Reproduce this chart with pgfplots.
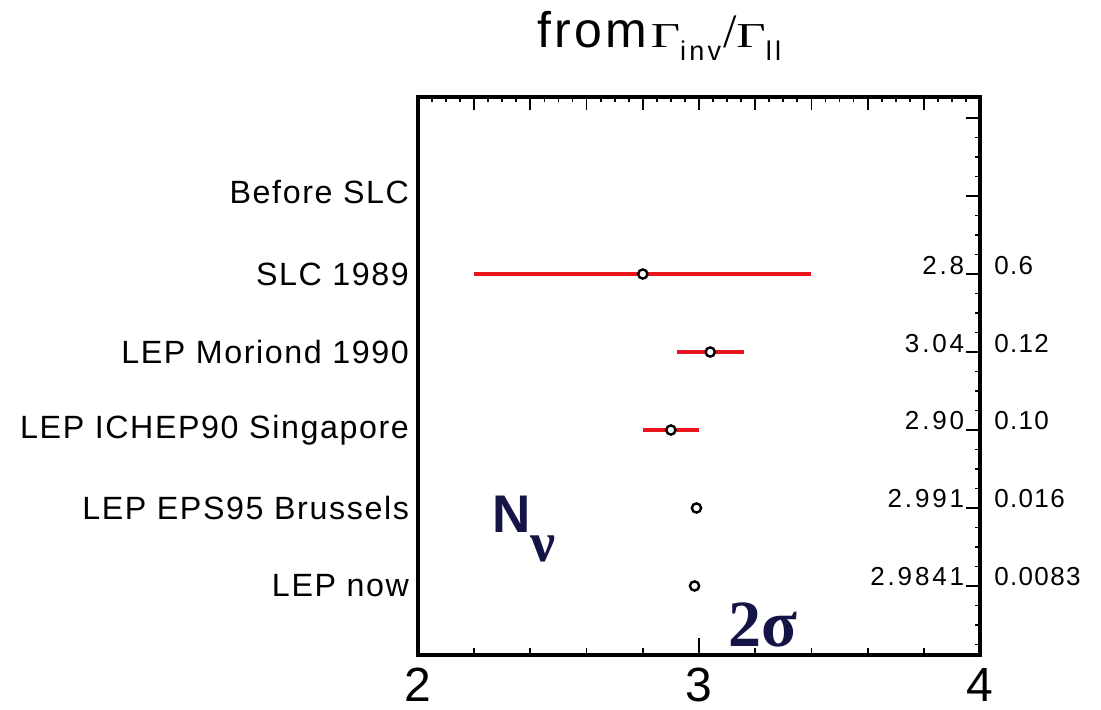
\documentclass[border=0pt]{standalone}
\usepackage{fontspec}
\setmainfont{Liberation Sans}[LetterSpace=5]
\newfontfamily\serif{Liberation Serif}
\newfontfamily\plainsans{Liberation Sans}
\usepackage{pgfplots}
\usepackage{pgfplotstable}
\pgfplotsset{compat=1.18}

\definecolor{barred}{RGB}{232,20,30}
\definecolor{navy}{RGB}{20,20,70}

% Number of light neutrino species: measurement, error, printed value, printed error
\pgfplotstableread{
y  N       dN      Nlab    dNlab
5  2.8     0.6     2.8     0.6
4  3.04    0.12    3.04    0.12
3  2.90    0.10    2.90    0.10
2  2.991   0.016   2.991   0.016
1  2.9841  0.0083  2.9841  0.0083
}\nudata

\newcommand{\wideGamma}{{\serif\fontsize{17.5}{20}\selectfont\scalebox{1.45}[1]{Γ}}}
\newcommand{\sub}[1]{\raisebox{-6.5pt}{\fontsize{13.5}{16}\selectfont\addfontfeature{LetterSpace=12}#1}}

\begin{document}
\begin{tikzpicture}
\useasboundingbox (-209pt,-27.5pt) rectangle (341.5pt,327.5pt);

% right tick row: long at each row, short every quarter
\begin{axis}[
  at={(0,0)}, anchor=south west,
  scale only axis, width=281pt, height=279pt,
  xmin=2, xmax=4, ymin=0.115, ymax=7.27,
  axis line style={line width=2pt},
  tick align=inside,
  xtick=\empty,
  ytick={1,2,3,4,5,6,7},
  minor ytick={0.25,0.5,0.75,1.25,1.5,1.75,2.25,2.5,2.75,3.25,3.5,3.75,4.25,4.5,4.75,5.25,5.5,5.75,6.25,6.5,6.75},
  ytick pos=right, yticklabel=\empty,
  major tick length=7pt, minor tick length=2.5pt,
  every tick/.style={black, line width=0.9pt},
]
  \addplot[draw=none] coordinates {(3,1)};
\end{axis}

% main frame: bottom ticks, category names on the left, data
\begin{axis}[
  at={(0,0)}, anchor=south west,
  scale only axis, width=281pt, height=279pt,
  xmin=2, xmax=4, ymin=0.115, ymax=7.27,
  clip=false,
  axis line style={line width=2pt},
  tick align=inside,
  xtick={2,3,4}, xtick pos=left,
  minor xtick={2.2,2.4,2.6,2.8,3.2,3.4,3.6,3.8},
  major tick length=8.5pt, minor tick length=3.5pt,
  every tick/.style={black, line width=0.9pt},
  xticklabel style={font=\plainsans\fontsize{24}{28}\selectfont, yshift=-3pt},
  /pgf/number format/assume math mode=true,
  ytick={1,2,3,4,5,6}, ytick pos=left,
  yticklabels={LEP now, LEP EPS95 Brussels, LEP ICHEP90 Singapore, LEP Moriond 1990, SLC 1989, \raisebox{4pt}{Before SLC}},
  ytick style={draw=none},
  yticklabel style={font=\fontsize{16.1}{18}\selectfont, xshift=-1pt},
]
  % top edge scale: short marks every 0.05, long marks every 0.2
  \pgfplotsinvokeforeach{2.05,2.1,2.15,2.25,2.3,2.35,2.45,2.5,2.55,2.65,2.7,2.75,2.85,2.9,2.95,3.05,3.1,3.15,3.25,3.3,3.35,3.45,3.5,3.55,3.65,3.7,3.75,3.85,3.9,3.95}{
    \draw[black, line width=0.9pt] (axis cs:#1,7.27) -- ++(0pt,-2.3pt);
  }
  \pgfplotsinvokeforeach{2.2,2.4,2.6,2.8,3,3.2,3.4,3.6,3.8}{
    \draw[black, line width=0.9pt] (axis cs:#1,7.27) -- ++(0pt,-6.5pt);
  }

  % measurements with their errors
  \addplot[only marks, mark=*, mark size=2.3pt,
    mark options={fill=white, draw=black, line width=1.2pt},
    error bars/.cd, x dir=both, x explicit,
    error bar style={barred, line width=1.6pt}, error mark=none]
    table[x=N, y=y, x error=dN] {\nudata};

  % printed central values beside the right edge
  \addplot[draw=none, mark=none, nodes near coords, point meta=explicit symbolic,
    nodes near coords style={anchor=base east, inner sep=0pt,
      font=\fontsize{13}{15}\selectfont\addfontfeature{LetterSpace=11}}]
    table[x expr=3.945, y=y, meta=Nlab] {\nudata};

  % printed errors outside the frame
  \addplot[draw=none, mark=none, nodes near coords, point meta=explicit symbolic,
    nodes near coords style={anchor=base west, inner sep=0pt,
      font=\fontsize{13}{15}\selectfont}]
    table[x expr=4.05, y=y, meta=dNlab] {\nudata};

  \node[anchor=base west, inner sep=0pt, text=navy,
    font=\plainsans\bfseries\fontsize{26.5}{30}\selectfont] at (axis cs:2.263,1.68) {N};
  \node[anchor=base west, inner sep=0pt, text=navy,
    font=\serif\bfseries\fontsize{28}{30}\selectfont] at (axis cs:2.398,1.31) {ν};
  \node[anchor=base west, inner sep=0pt, text=navy,
    font=\serif\bfseries\fontsize{33}{35}\selectfont] at (axis cs:3.103,0.218) {2σ};

  \node[anchor=base west, inner sep=0pt] at (axis cs:2.425,7.27) [yshift=24.5pt]
    {{\fontsize{25}{28}\selectfont\addfontfeature{LetterSpace=6}from}\hspace{2pt}\wideGamma\sub{inv}\hspace{1pt}{\serif\fontsize{24}{26}\selectfont /}\wideGamma\sub{ll}};
\end{axis}
\end{tikzpicture}
\end{document}
